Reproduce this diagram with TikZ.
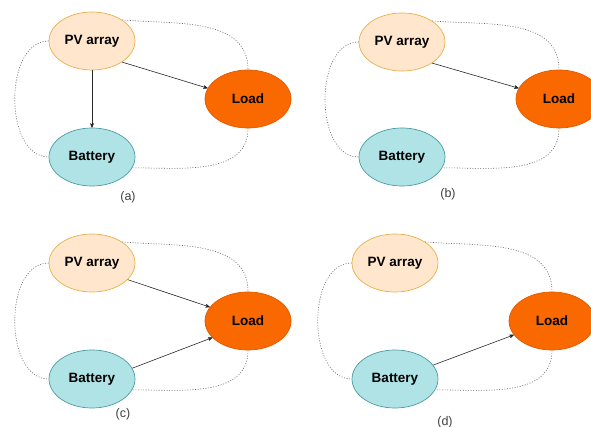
\documentclass[tikz,border=0pt]{standalone}
\usepackage{fontspec}
\setmainfont{Liberation Sans}
\usetikzlibrary{arrows, shapes}

\definecolor{pvfill}{HTML}{FFE6CC}
\definecolor{pvline}{HTML}{E6B14C}
\definecolor{loadfill}{HTML}{FA6800}
\definecolor{loadline}{HTML}{E25A00}
\definecolor{batfill}{HTML}{B0E3E6}
\definecolor{batline}{HTML}{4A9CA3}

\begin{document}
\begin{tikzpicture}[x=1pt, y=1pt, >=stealth',
	blob/.style={ellipse, inner sep=0pt, line width=0.7pt, minimum width=86pt, minimum height=58pt, font=\fontsize{13.5}{16}\selectfont\bfseries},
	pvbox/.style={blob, draw=pvline, fill=pvfill},
	loadbox/.style={blob, draw=loadline, fill=loadfill},
	batbox/.style={blob, draw=batline, fill=batfill},
	sublabel/.style={font=\fontsize{12.5}{15}\selectfont, text=black!75},
	link/.style={-, draw=black!60, line width=0.6pt, dash pattern=on 1pt off 1.6pt},
	flow/.style={->, draw=black!85, line width=0.6pt}]
		\useasboundingbox (0, 0) rectangle (591, -427);

		% (a)
		\node[pvbox] (pva) at (92, -41) {PV array};
		\node[loadbox] (loada) at (248, -99) {Load};
		\node[batbox] (bata) at (92, -157) {Battery};
		\node[sublabel] (capa) at (128, -197) {(a)};
		\path (pva.35) edge[link, out=-5, in=90] (loada.north)
			(pva.west) edge[link, out=180, in=180] (bata.west)
			(loada.south) edge[link, out=-90, in=0] (bata.-15)
			(pva.south) edge[flow] (bata.north)
			(pva.-35) edge[flow] (loada.165);

		% (b)
		\node[pvbox] (pvb) at (402, -42) {PV array};
		\node[loadbox] (loadb) at (559, -99) {Load};
		\node[batbox] (batb) at (402, -157) {Battery};
		\node[sublabel] (capb) at (448, -194) {(b)};
		\path (pvb.35) edge[link, out=-5, in=90] (loadb.north)
			(pvb.west) edge[link, out=180, in=180] (batb.west)
			(loadb.south) edge[link, out=-90, in=0] (batb.-15)
			(pvb.-35) edge[flow] (loadb.165);

		% (c)
		\node[pvbox] (pvc) at (92, -263) {PV array};
		\node[loadbox] (loadc) at (248, -321) {Load};
		\node[batbox] (batc) at (92, -379) {Battery};
		\node[sublabel] (capc) at (123, -414) {(c)};
		\path (pvc.35) edge[link, out=-5, in=90] (loadc.north)
			(pvc.west) edge[link, out=180, in=180] (batc.west)
			(loadc.south) edge[link, out=-90, in=0] (batc.-15)
			(pvc.-25) edge[flow] (loadc.160)
			(batc.15) edge[flow] (loadc.205);

		% (d)
		\node[pvbox] (pvd) at (395, -263) {PV array};
		\node[loadbox] (loadd) at (552, -321) {Load};
		\node[batbox] (batd) at (395, -379) {Battery};
		\node[sublabel] (capd) at (445, -422) {(d)};
		\path (pvd.35) edge[link, out=-5, in=90] (loadd.north)
			(pvd.west) edge[link, out=180, in=180] (batd.west)
			(loadd.south) edge[link, out=-90, in=0] (batd.-15)
			(batd.20) edge[flow] (loadd.200);
	\end{tikzpicture}
\end{document}
